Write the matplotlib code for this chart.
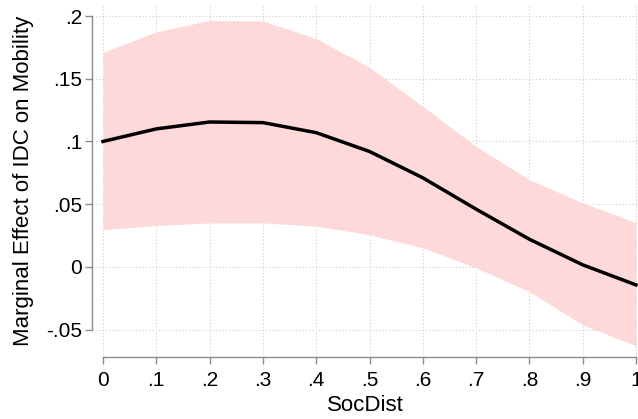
import numpy as np
import matplotlib.pyplot as plt

plt.rcParams['font.family'] = ['Liberation Sans', 'DejaVu Sans']

# SocDist grid and marginal effect estimates with 95% CI
soc_dist = [0.0, 0.1, 0.2, 0.3, 0.4, 0.5, 0.6, 0.7, 0.8, 0.9, 1.0]
effect = [0.100, 0.110, 0.1155, 0.115, 0.107, 0.092, 0.071, 0.046, 0.022, 0.0016, -0.0144]
upper = [0.171, 0.1874, 0.1965, 0.196, 0.182, 0.159, 0.128, 0.096, 0.0695, 0.051, 0.0354]
lower = [0.0296, 0.033, 0.035, 0.035, 0.0325, 0.0256, 0.0152, -0.0008, -0.0197, -0.0463, -0.063]

x_ticks = [0, 0.1, 0.2, 0.3, 0.4, 0.5, 0.6, 0.7, 0.8, 0.9, 1.0]
x_labels = ['0', '.1', '.2', '.3', '.4', '.5', '.6', '.7', '.8', '.9', '1']
y_ticks = [-0.05, 0, 0.05, 0.1, 0.15, 0.2]
y_labels = ['-.05', '0', '.05', '.1', '.15', '.2']

fig = plt.figure(figsize=(6.38, 4.19), dpi=100)
ax = fig.add_axes([92 / 638, 1 - 357 / 419, 546 / 638, 352 / 419])

ax.fill_between(soc_dist, lower, upper, color='#fdd9d9', linewidth=0, zorder=2)
ax.plot(soc_dist, effect, color='black', linewidth=2.5, zorder=3)

ax.set_xlim(-11 / 533, 1 + 2 / 533)
ax.set_ylim(-0.0719, 0.2088)

ax.set_xticks(x_ticks)
ax.set_xticklabels(x_labels)
ax.set_yticks(y_ticks)
ax.set_yticklabels(y_labels)

ax.grid(True, color='#cccccc', linestyle=(0, (1, 2)), linewidth=0.8, zorder=1)
ax.set_axisbelow(True)

for s in ['top', 'right']:
    ax.spines[s].set_visible(False)
ax.spines['left'].set_bounds(-0.05, 0.2)
ax.spines['bottom'].set_bounds(0, 1)
for s in ['left', 'bottom']:
    ax.spines[s].set_color('#8c8c8c')
    ax.spines[s].set_linewidth(1.0)

ax.tick_params(axis='both', colors='#8c8c8c', length=5, width=1.0,
               labelcolor='black', labelsize=15)
ax.tick_params(axis='x', pad=5)
ax.tick_params(axis='y', pad=2)

ax.set_xlabel('SocDist', fontsize=16, labelpad=4)
ax.set_ylabel('Marginal Effect of IDC on Mobility', fontsize=16, labelpad=9)

fig.savefig('out.png', dpi=100)
